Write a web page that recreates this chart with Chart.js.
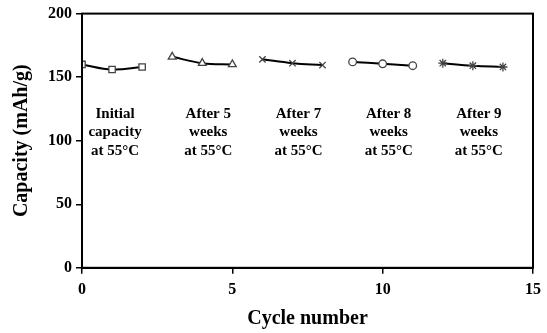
<!DOCTYPE html>
<html>
<head>
<meta charset="utf-8">
<script src="https://cdn.jsdelivr.net/npm/chart.js@4/dist/chart.umd.min.js"></script>
<style>
  html, body { margin: 0; padding: 0; background: #fff; }
  #wrap { width: 547px; height: 333px; }
</style>
</head>
<body>
<div id="wrap"><canvas id="chart" width="547" height="333"></canvas></div>
<script>
// Capacity per cycle, one group per storage stage
const initialCycles = [0, 1, 2];
const initialCapacity = [160, 156, 158];
const week5Cycles = [3, 4, 5];
const week5Capacity = [166, 161, 160];
const week7Cycles = [6, 7, 8];
const week7Capacity = [164, 161, 159.5];
const week8Cycles = [9, 10, 11];
const week8Capacity = [162, 160.5, 159];
const week9Cycles = [12, 13, 14];
const week9Capacity = [161, 159, 158];

const groupLabels = [
    ['Initial', 'capacity', 'at 55°C'],
    ['After 5', 'weeks', 'at 55°C'],
    ['After 7', 'weeks', 'at 55°C'],
    ['After 8', 'weeks', 'at 55°C'],
    ['After 9', 'weeks', 'at 55°C']
];
const labelCenters = [1.1, 4.2, 7.2, 10.2, 13.2];
const labelRows = [121, 107, 92];

const xTicks = [0, 5, 10, 15];
const yTicks = [0, 50, 100, 150, 200];

const serif = "'Liberation Serif', 'Times New Roman', serif";

function toPoints(xs, ys) {
    return xs.map((x, i) => ({ x: x, y: ys[i] }));
}

function makeSeries(xs, ys, style, radius) {
    return {
        data: toPoints(xs, ys),
        borderColor: '#000',
        borderWidth: 2,
        tension: 0.4,
        pointStyle: style,
        pointRadius: radius,
        pointBorderWidth: 1.3,
        pointBorderColor: '#444',
        pointBackgroundColor: '#fff'
    };
}

// Frame around the plot area and the stage labels
const framePlugin = {
    id: 'frame',
    afterDraw(chart) {
        const ctx = chart.ctx;
        const area = chart.chartArea;
        const xs = chart.scales.x;
        const ys = chart.scales.y;
        ctx.save();
        ctx.strokeStyle = '#000';
        ctx.lineWidth = 2;
        ctx.strokeRect(area.left, area.top, area.right - area.left, area.bottom - area.top);

        ctx.fillStyle = '#000';
        ctx.font = 'bold 15px ' + serif;
        ctx.textAlign = 'center';
        ctx.textBaseline = 'middle';
        groupLabels.forEach((lines, i) => {
            lines.forEach((line, j) => {
                ctx.fillText(line, xs.getPixelForValue(labelCenters[i]), ys.getPixelForValue(labelRows[j]));
            });
        });
        ctx.restore();
    }
};

new Chart(document.getElementById('chart'), {
    type: 'line',
    data: {
        datasets: [
            makeSeries(initialCycles, initialCapacity, 'rect', 4.5),
            makeSeries(week5Cycles, week5Capacity, 'triangle', 4.5),
            makeSeries(week7Cycles, week7Capacity, 'crossRot', 4.5),
            makeSeries(week8Cycles, week8Capacity, 'circle', 3.8),
            makeSeries(week9Cycles, week9Capacity, 'star', 4.5)
        ]
    },
    options: {
        responsive: false,
        animation: false,
        layout: { padding: { left: 6, right: 6, top: 6, bottom: 0 } },
        plugins: {
            legend: { display: false },
            tooltip: { enabled: false }
        },
        scales: {
            x: {
                type: 'linear',
                min: 0,
                max: 15,
                afterBuildTicks: axis => { axis.ticks = xTicks.map(v => ({ value: v })); },
                grid: { drawOnChartArea: false, tickLength: 6, color: '#000', lineWidth: 1.5 },
                border: { color: '#000', width: 2 },
                ticks: { color: '#000', font: { family: serif, size: 16, weight: 'bold' }, padding: 6, maxRotation: 0 },
                title: { display: true, text: 'Cycle number', color: '#000', font: { family: serif, size: 20, weight: 'bold' }, padding: { top: 2, bottom: 2 } }
            },
            y: {
                min: 0,
                max: 200,
                afterBuildTicks: axis => { axis.ticks = yTicks.map(v => ({ value: v })); },
                grid: { drawOnChartArea: false, tickLength: 6, color: '#000', lineWidth: 1.5 },
                border: { color: '#000', width: 2 },
                ticks: { color: '#000', font: { family: serif, size: 16, weight: 'bold' }, padding: 4 },
                title: { display: true, text: 'Capacity (mAh/g)', color: '#000', font: { family: serif, size: 20, weight: 'bold' }, padding: { bottom: 10 } }
            }
        }
    },
    plugins: [framePlugin]
});
</script>
</body>
</html>
